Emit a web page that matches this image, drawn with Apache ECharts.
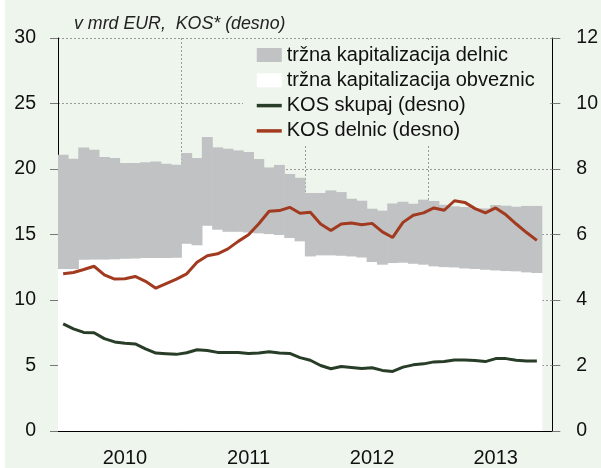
<!DOCTYPE html>
<html>
<head>
<meta charset="utf-8">
<script src="https://cdn.jsdelivr.net/npm/echarts@6/dist/echarts.min.js"></script>
<style>
html,body{margin:0;padding:0;background:#fff;}
#chart{width:601px;height:468px;}
</style>
</head>
<body>
<div id="chart"></div>
<script>
// mesecne kategorije, jan 2010 - dec 2013
var years = ['2010', '2011', '2012', '2013'];
var months = [];
years.forEach(function (y) {
    for (var m = 1; m <= 12; m++) months.push(y + '-' + (m < 10 ? '0' + m : m));
});

// trzna kapitalizacija obveznic (mrd EUR)
var obveznice = [12.37, 12.37, 13.08, 13.10, 13.10, 13.12, 13.15, 13.17, 13.20, 13.20, 13.20, 13.22,
    14.30, 14.17, 15.67, 15.37, 15.21, 15.21, 15.16, 15.09, 15.03, 14.96, 14.73, 14.48,
    13.33, 13.41, 13.41, 13.38, 13.33, 13.25, 12.90, 12.70, 12.82, 12.85, 12.77, 12.70,
    12.57, 12.51, 12.49, 12.41, 12.37, 12.31, 12.26, 12.21, 12.19, 12.11, 12.06, null];
// trzna kapitalizacija delnic (mrd EUR)
var delnice = [8.72, 8.42, 8.57, 8.37, 7.82, 7.72, 7.31, 7.29, 7.31, 7.38, 7.21, 7.11,
    6.92, 6.67, 6.77, 6.28, 6.34, 6.21, 6.14, 5.67, 5.09, 5.35, 4.89, 4.85,
    4.84, 4.76, 4.96, 4.86, 4.40, 4.33, 4.07, 4.12, 4.55, 4.65, 4.58, 4.96,
    4.99, 4.76, 4.66, 4.69, 4.62, 4.68, 4.99, 4.99, 4.93, 5.07, 5.12, null];
// KOS skupaj (desno)
var kosSkupaj = [3.27, 3.12, 3.01, 3.00, 2.82, 2.72, 2.68, 2.66, 2.51, 2.38, 2.36, 2.34,
    2.39, 2.48, 2.46, 2.40, 2.40, 2.40, 2.37, 2.38, 2.42, 2.38, 2.37, 2.24,
    2.16, 2.00, 1.90, 1.97, 1.94, 1.91, 1.93, 1.85, 1.82, 1.95, 2.02, 2.05,
    2.11, 2.12, 2.17, 2.17, 2.15, 2.12, 2.21, 2.21, 2.16, 2.14, 2.14, null];
// KOS delnic (desno)
var kosDelnic = [4.80, 4.84, 4.93, 5.03, 4.77, 4.64, 4.65, 4.72, 4.57, 4.36, 4.50, 4.64,
    4.80, 5.15, 5.35, 5.41, 5.56, 5.79, 5.99, 6.33, 6.71, 6.73, 6.83, 6.65,
    6.68, 6.32, 6.12, 6.32, 6.35, 6.30, 6.34, 6.08, 5.91, 6.37, 6.59, 6.66,
    6.81, 6.74, 7.03, 6.98, 6.79, 6.66, 6.81, 6.60, 6.32, 6.06, 5.82, null];

var bg = '#eef5ed';
var font = 'Liberation Sans, Arial, sans-serif';
var siva = '#c1c2c4', temna = '#283d27', rdeca = '#a23a1f';

var chart = echarts.init(document.getElementById('chart'));
var option = {
    backgroundColor: bg,
    animation: false,
    textStyle: { fontFamily: font },
    graphic: [{
        type: 'rect', left: 0, top: 0, z: 100,
        shape: { width: 5, height: 468 },
        style: { fill: '#fff' }
    }],
    title: {
        text: 'v mrd EUR,  KOS* (desno)',
        left: 69, top: 10,
        textStyle: { fontSize: 17.8, fontStyle: 'italic', fontWeight: 'normal', color: '#222', fontFamily: font }
    },
    legend: {
        orient: 'vertical',
        left: 243, top: 40,
        padding: [4, 14, 4, 12],
        backgroundColor: bg,
        itemWidth: 25, itemHeight: 14, itemGap: 3.3,
        lineStyle: { width: 3.5 },
        textStyle: { fontSize: 20, lineHeight: 22, color: '#111', fontFamily: font },
        data: [
            { name: 'tržna kapitalizacija delnic', icon: 'rect' },
            { name: 'tržna kapitalizacija obveznic', icon: 'rect' },
            { name: 'KOS skupaj (desno)', itemStyle: { opacity: 0 } },
            { name: 'KOS delnic (desno)', itemStyle: { opacity: 0 } }
        ]
    },
    grid: { left: 58, right: 47, top: 38, bottom: 37 },
    xAxis: {
        type: 'category',
        data: months,
        axisLine: { lineStyle: { color: '#000', width: 1 } },
        axisTick: { show: false },
        axisLabel: {
            interval: function (i) { return i % 12 === 6; },
            formatter: function (v) { return v.slice(0, 4); },
            fontSize: 20, color: '#111', margin: 17
        },
        splitLine: {
            show: true,
            interval: function (i) { return i % 12 === 0 && i > 0; },
            lineStyle: { color: '#9a9a9a', type: [2, 2], width: 1 }
        }
    },
    yAxis: [{
        type: 'value', min: 0, max: 30, interval: 5,
        axisLine: { show: true, lineStyle: { color: '#000', width: 1 } },
        axisTick: { show: true, length: 8, lineStyle: { color: '#777' } },
        axisLabel: { fontSize: 19.5, color: '#111', margin: 22 },
        splitLine: { lineStyle: { color: '#9a9a9a', type: [2, 2], width: 1 } }
    }, {
        type: 'value', min: 0, max: 12, interval: 2,
        axisLine: { show: true, lineStyle: { color: '#000', width: 1 } },
        axisTick: { show: true, length: 8, lineStyle: { color: '#777' } },
        axisLabel: { fontSize: 19.5, color: '#111', margin: 24 },
        splitLine: { show: false }
    }],
    series: [{
        name: 'tržna kapitalizacija obveznic',
        type: 'bar', stack: 'kap',
        data: obveznice,
        barWidth: '106%', barGap: 0,
        itemStyle: { color: '#ffffff' }
    }, {
        name: 'tržna kapitalizacija delnic',
        type: 'bar', stack: 'kap',
        data: delnice,
        barWidth: '106%', barGap: 0,
        itemStyle: { color: siva }
    }, {
        name: 'KOS skupaj (desno)',
        type: 'line', yAxisIndex: 1,
        data: kosSkupaj,
        symbol: 'none',
        lineStyle: { color: temna, width: 3 },
        itemStyle: { color: temna }
    }, {
        name: 'KOS delnic (desno)',
        type: 'line', yAxisIndex: 1,
        data: kosDelnic,
        symbol: 'none',
        lineStyle: { color: rdeca, width: 3 },
        itemStyle: { color: rdeca }
    }]
};
chart.setOption(option);
</script>
</body>
</html>
